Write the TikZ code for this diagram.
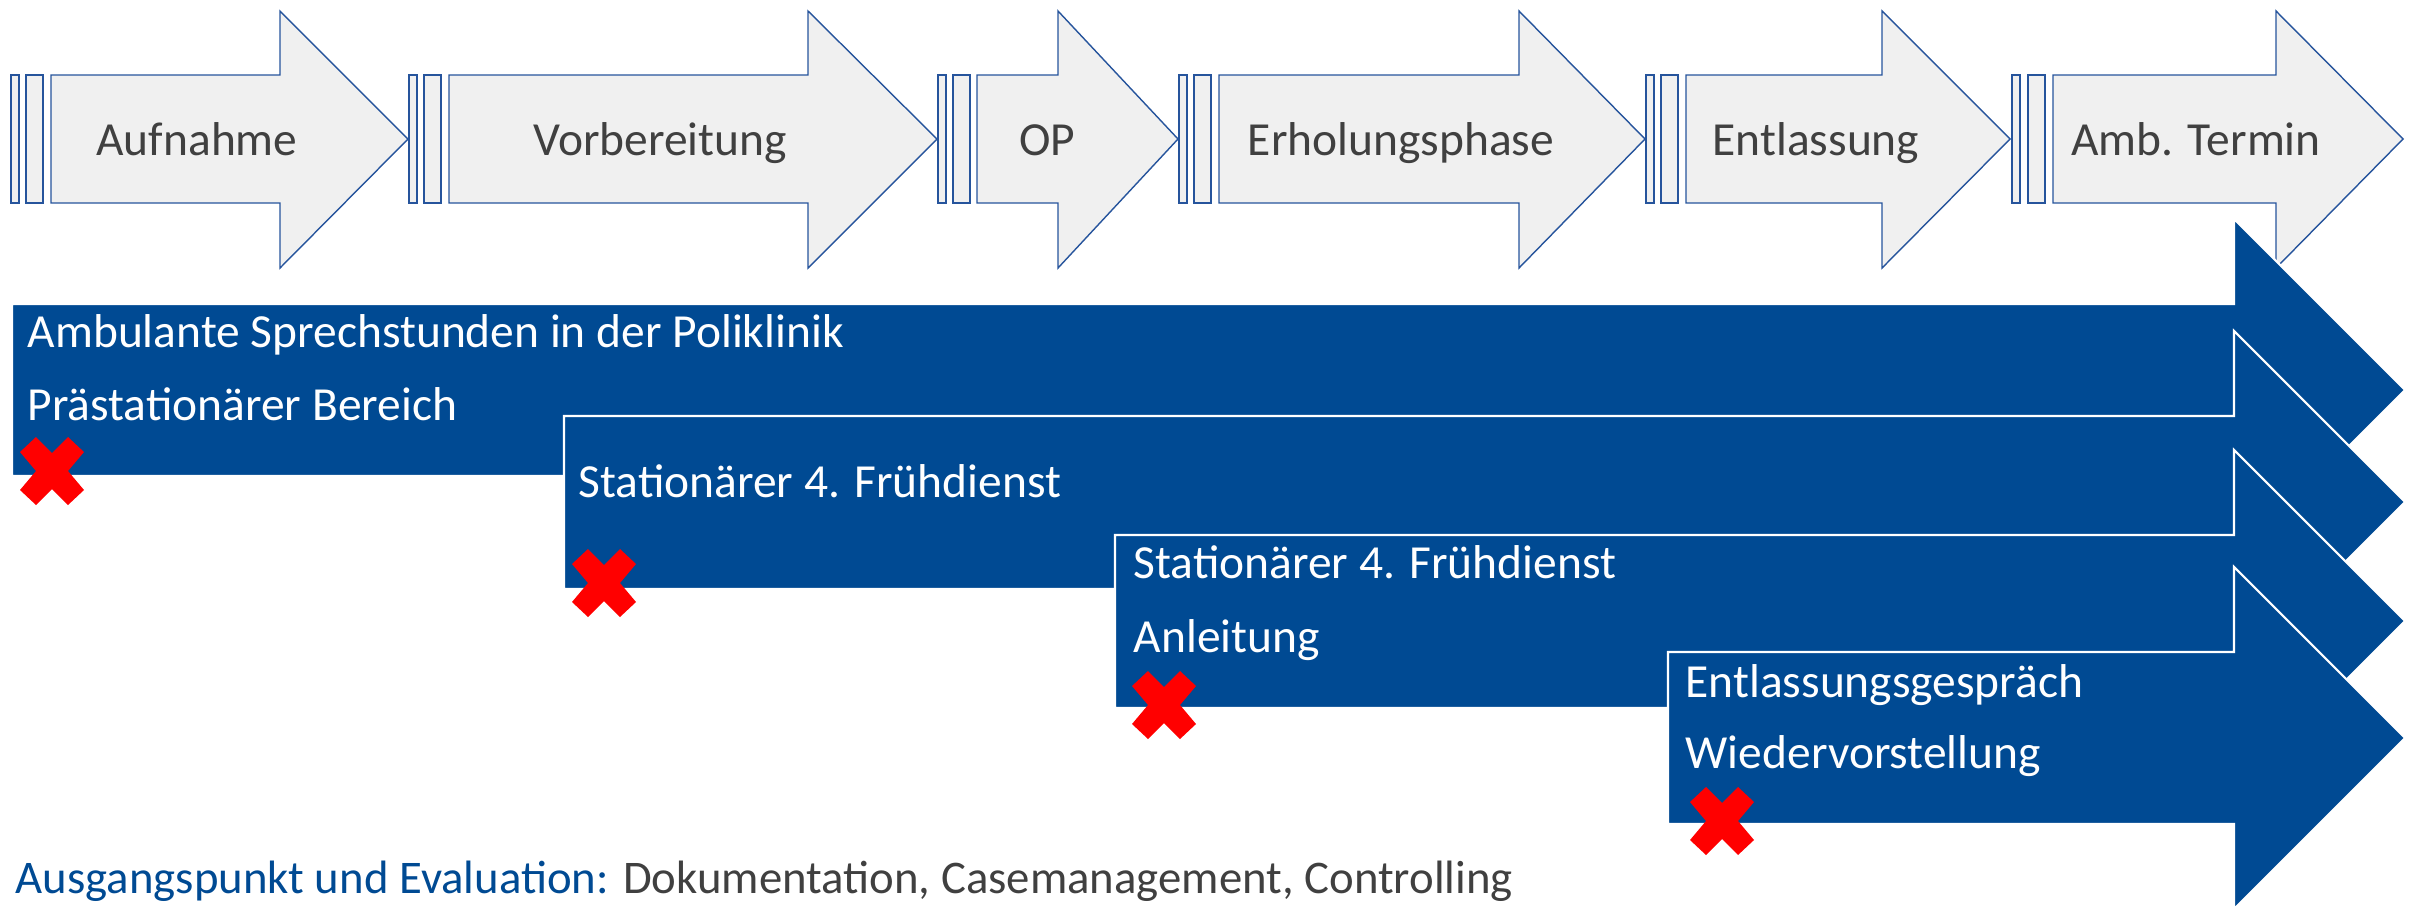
\documentclass[tikz,border=0pt]{standalone}
\usepackage{fontspec}
\setmainfont{Carlito}
\usepackage{tikz}
\definecolor{bandblue}{RGB}{0, 74, 147}
\definecolor{phaseline}{RGB}{38, 84, 156}
\definecolor{phasefill}{RGB}{240, 240, 240}
\definecolor{phasetxt}{RGB}{64, 64, 64}

\begin{document}
\begin{tikzpicture}[x=0.01cm, y=-0.01cm,
    phase/.style={draw=phaseline, fill=phasefill, line width=0.4pt, line join=miter},
    phasetext/.style={anchor=base, text=phasetxt, inner sep=0pt, font=\fontsize{13.5}{16}\selectfont},
    band/.style={draw=white, fill=bandblue, line width=0.6pt},
    bandtext/.style={anchor=base west, text=white, inner sep=0pt, font=\fontsize{13.5}{16}\selectfont},
    kreuz/.style={fill=red, draw=none}]
        \clip (0,0) rectangle (2418,905);
        \useasboundingbox (0,0) rectangle (2418,905);
        % Phasen (oben)
        \draw[phase] (11,75) rectangle (19,203) (26,75) rectangle (43,203);
        \draw[phase] (51,75) -- (280,75) -- (280,11) -- (408,139) -- (280,268) -- (280,203) -- (51,203) -- cycle;
        \node[phasetext] (aufnahme) at (197,155) {Aufnahme};
        \draw[phase] (409,75) rectangle (417,203) (424,75) rectangle (441,203);
        \draw[phase] (449,75) -- (808,75) -- (808,11) -- (937,139) -- (808,268) -- (808,203) -- (449,203) -- cycle;
        \node[phasetext] (vorbereitung) at (660,155) {Vorbereitung};
        \draw[phase] (938,75) rectangle (946,203) (953,75) rectangle (970,203);
        \draw[phase] (977,75) -- (1058,75) -- (1058,11) -- (1178,139) -- (1058,268) -- (1058,203) -- (977,203) -- cycle;
        \node[phasetext] (op) at (1047,155) {OP};
        \draw[phase] (1179,75) rectangle (1187,203) (1194,75) rectangle (1211,203);
        \draw[phase] (1219,75) -- (1519,75) -- (1519,11) -- (1645,139) -- (1519,268) -- (1519,203) -- (1219,203) -- cycle;
        \node[phasetext] (erholung) at (1401,155) {Erholungsphase};
        \draw[phase] (1646,75) rectangle (1654,203) (1661,75) rectangle (1678,203);
        \draw[phase] (1686,75) -- (1882,75) -- (1882,11) -- (2010,139) -- (1882,268) -- (1882,203) -- (1686,203) -- cycle;
        \node[phasetext] (entlassung) at (1816,155) {Entlassung};
        \draw[phase] (2012,75) rectangle (2020,203) (2028,75) rectangle (2045,203);
        \draw[phase] (2053,75) -- (2276,75) -- (2276,11) -- (2403,139) -- (2276,268) -- (2276,203) -- (2053,203) -- cycle;
        \node[phasetext] (ambtermin) at (2196,155) {Amb. Termin};
        % Bereiche (blau)
        \draw[band] (12,304) -- (2234,304) -- (2234,219) -- (2405,390) -- (2234,561) -- (2234,476) -- (12,476) -- cycle;
        \node[bandtext] (ambulant) at (27,347) {Ambulante Sprechstunden in der Poliklinik};
        \node[bandtext] (praestat) at (27,420) {Prästationärer Bereich};
        \draw[band] (564,416) -- (2234,416) -- (2234,331) -- (2405,502) -- (2234,673) -- (2234,589) -- (564,589) -- cycle;
        \node[bandtext] (stat) at (578,497) {Stationärer 4. Frühdienst};
        \draw[band] (1115,535) -- (2234,535) -- (2234,450) -- (2405,621) -- (2234,792) -- (2234,708) -- (1115,708) -- cycle;
        \node[bandtext] (statzwei) at (1133,578) {Stationärer 4. Frühdienst};
        \node[bandtext] (anleitung) at (1133,652) {Anleitung};
        \draw[band] (1668,652) -- (2234,652) -- (2234,567) -- (2405,738) -- (2234,909) -- (2234,824) -- (1668,824) -- cycle;
        \node[bandtext] (gespraech) at (1685,697) {Entlassungsgespräch};
        \node[bandtext] (wieder) at (1685,768) {Wiedervorstellung};
        % Kreuze
        \foreach \p in {(52,471), (604,583), (1164,705), (1722,821)}
            \fill[kreuz, shift={\p}] (-32,-19) -- (-16,-34) -- (0,-18) -- (16,-34) -- (32,-19) -- (16,0)
                -- (32,19) -- (16,34) -- (0,18) -- (-16,34) -- (-32,19) -- (-16,0) -- cycle;
        % Fusszeile
        \node[anchor=base west, inner sep=0pt, text=phasetxt, font=\fontsize{13.3}{16}\selectfont] (fuss) at (15,893)
            {\textcolor{bandblue}{Ausgangspunkt und Evaluation:} Dokumentation, Casemanagement, Controlling};
    \end{tikzpicture}
\end{document}
